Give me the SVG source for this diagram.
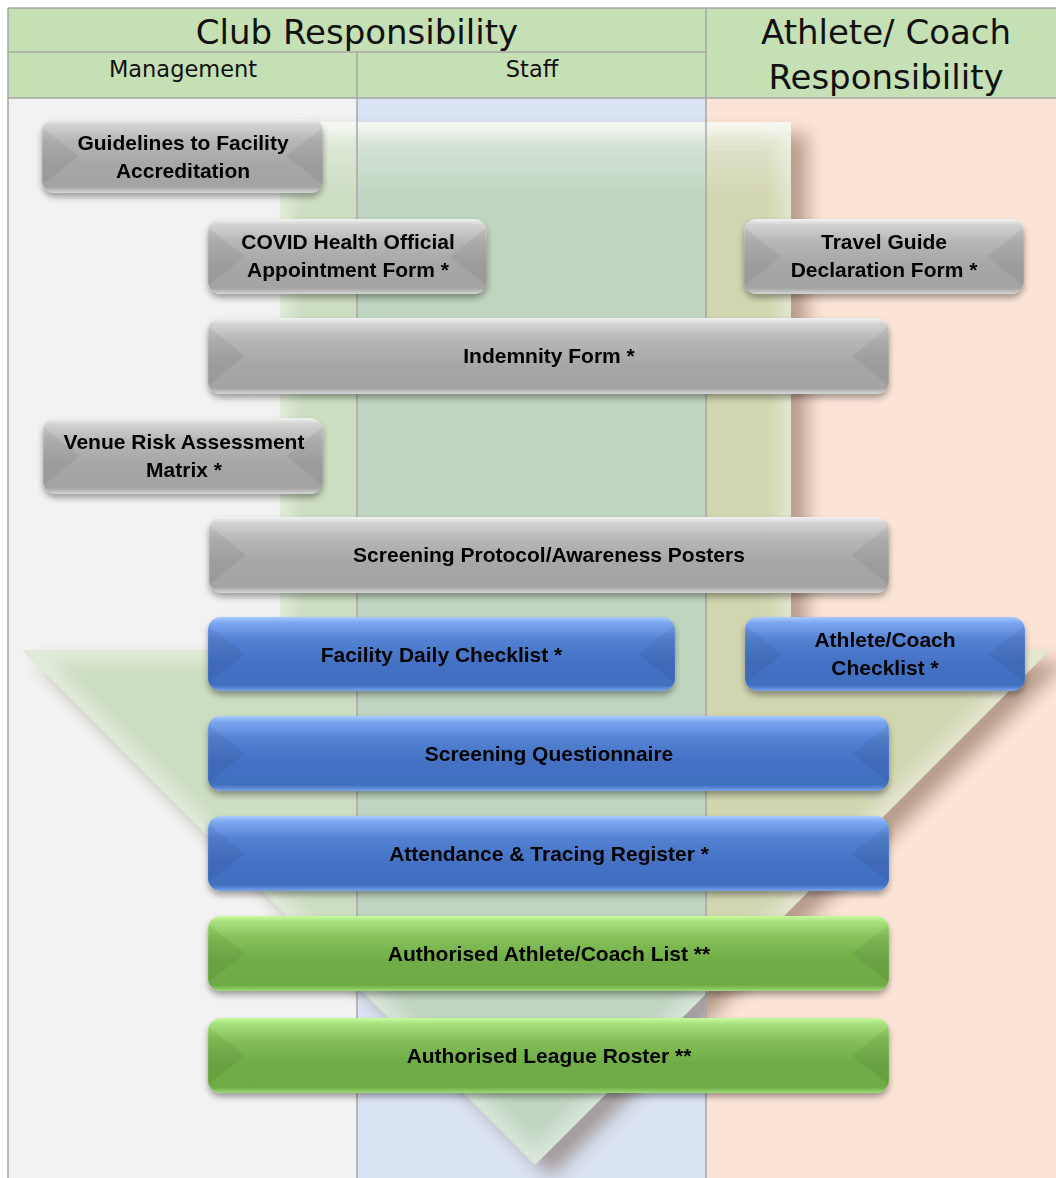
<svg xmlns="http://www.w3.org/2000/svg" width="1056" height="1178" viewBox="0 0 1056 1178">
  <style>
    .hdr { font-family: "DejaVu Sans", "Liberation Sans", sans-serif; fill: #111; text-anchor: middle; }
    .big { font-size: 34px; }
    .sub { font-size: 22.5px; }
    .grid { stroke: #a6a6a6; stroke-width: 1.5; fill: none; }
    .node text { font-family: "Liberation Sans", Arial, sans-serif; font-weight: bold; font-size: 21px; fill: #000; text-anchor: middle; }
    .gray rect.body { fill: url(#gGray); }
    .blue rect.body { fill: url(#gBlue); }
    .green rect.body { fill: url(#gGreen); }
    .facet { fill: #000; opacity: 0.06; }
  </style>
  <defs>
    <linearGradient id="gGray" x1="0" y1="0" x2="0" y2="1">
      <stop offset="0" stop-color="#f2f2f2"/>
      <stop offset="0.08" stop-color="#d2d2d2"/>
      <stop offset="0.3" stop-color="#b6b6b6"/>
      <stop offset="0.6" stop-color="#a7a7a7"/>
      <stop offset="0.92" stop-color="#a3a3a3"/>
      <stop offset="1" stop-color="#d6d6d6"/>
    </linearGradient>
    <linearGradient id="gBlue" x1="0" y1="0" x2="0" y2="1">
      <stop offset="0" stop-color="#a9cbff"/>
      <stop offset="0.08" stop-color="#7ba7f1"/>
      <stop offset="0.3" stop-color="#5482d3"/>
      <stop offset="0.6" stop-color="#4472c4"/>
      <stop offset="0.92" stop-color="#416fc0"/>
      <stop offset="1" stop-color="#7aa3ea"/>
    </linearGradient>
    <linearGradient id="gGreen" x1="0" y1="0" x2="0" y2="1">
      <stop offset="0" stop-color="#c8fb9f"/>
      <stop offset="0.08" stop-color="#a6e17b"/>
      <stop offset="0.3" stop-color="#84bf58"/>
      <stop offset="0.6" stop-color="#70ad47"/>
      <stop offset="0.92" stop-color="#6eab45"/>
      <stop offset="1" stop-color="#9dd973"/>
    </linearGradient>
    <linearGradient id="arrowTop" x1="0" y1="122" x2="0" y2="200" gradientUnits="userSpaceOnUse">
      <stop offset="0" stop-color="#ffffff" stop-opacity="0.75"/>
      <stop offset="0.25" stop-color="#ffffff" stop-opacity="0.35"/>
      <stop offset="1" stop-color="#ffffff" stop-opacity="0"/>
    </linearGradient>
    <filter id="boxShadow" x="-5%" y="-20%" width="110%" height="150%">
      <feDropShadow dx="0" dy="4" stdDeviation="3" flood-color="#000" flood-opacity="0.35"/>
    </filter>
    <filter id="arrowShadow" x="-10%" y="-10%" width="120%" height="120%">
      <feGaussianBlur stdDeviation="9"/>
    </filter>
    <path id="arrowShape" d="M280,122 L791,122 L791,650 L1050,650 L535,1165 L22,650 L280,650 Z"/>
    <clipPath id="arrowClip"><use href="#arrowShape"/></clipPath>
    <mask id="outsideArrow" maskUnits="userSpaceOnUse" x="0" y="0" width="1056" height="1178">
      <rect x="0" y="0" width="1056" height="1178" fill="#fff"/>
      <use href="#arrowShape" fill="#000"/>
    </mask>
  </defs>

  <!-- column backgrounds -->
  <rect x="8" y="98" width="349" height="1080" fill="#f2f2f2"/>
  <rect x="357" y="98" width="349" height="1080" fill="#dae3f3"/>
  <rect x="706" y="98" width="350" height="1080" fill="#fbe4d6"/>

  <!-- header band -->
  <rect x="8" y="8" width="1048" height="90" fill="#c5e0b4"/>

  <!-- large downward arrow behind the forms -->
  <g id="flow-arrow">
    <g mask="url(#outsideArrow)">
      <use href="#arrowShape" transform="translate(16,12)" fill="#5b3a28" opacity="0.42" filter="url(#arrowShadow)"/>
    </g>
    <use href="#arrowShape" fill="#9dc383" fill-opacity="0.45"/>
    <g clip-path="url(#arrowClip)">
      <use href="#arrowShape" fill="none" stroke="#ffffff" stroke-opacity="0.45" stroke-width="22" filter="url(#arrowShadow)"/>
      <rect x="280" y="122" width="511" height="80" fill="url(#arrowTop)"/>
    </g>
  </g>

  <!-- grid lines -->
  <g id="grid">
    <line class="grid" x1="8" y1="8" x2="1056" y2="8"/>
    <line class="grid" x1="8" y1="8" x2="8" y2="1178"/>
    <line class="grid" x1="8" y1="52" x2="706" y2="52"/>
    <line class="grid" x1="8" y1="98" x2="1056" y2="98"/>
    <line class="grid" x1="357" y1="52" x2="357" y2="1178"/>
    <line class="grid" x1="706" y1="8" x2="706" y2="1178"/>
  </g>

  <!-- header texts -->
  <g id="headers">
    <text class="hdr big" x="357" y="44">Club Responsibility</text>
    <text class="hdr big" x="886" y="44">Athlete/ Coach</text>
    <text class="hdr big" x="886" y="89">Responsibility</text>
    <text class="hdr sub" x="183" y="77">Management</text>
    <text class="hdr sub" x="532" y="77">Staff</text>
  </g>

  <!-- no connectors in this chart -->
  <g id="connectors"/>

  <!-- form nodes -->
  <g id="n-guidelines" class="node gray" filter="url(#boxShadow)">
    <rect class="body" x="42" y="119" width="281" height="74" rx="13"/>
    <polygon class="facet" points="43,128 79,156 43,184"/>
    <polygon class="facet" points="322,128 286,156 322,184"/>
    <text x="183" y="150">Guidelines to Facility</text>
    <text x="183" y="178">Accreditation</text>
  </g>

  <g id="n-covid" class="node gray" filter="url(#boxShadow)">
    <rect class="body" x="208" y="219" width="279" height="75" rx="13"/>
    <polygon class="facet" points="209,228 245,256.5 209,285"/>
    <polygon class="facet" points="486,228 450,256.5 486,285"/>
    <text x="348" y="249">COVID Health Official</text>
    <text x="348" y="277">Appointment Form *</text>
  </g>

  <g id="n-travel" class="node gray" filter="url(#boxShadow)">
    <rect class="body" x="744" y="219" width="280" height="75" rx="13"/>
    <polygon class="facet" points="745,228 781,256.5 745,285"/>
    <polygon class="facet" points="1023,228 987,256.5 1023,285"/>
    <text x="884" y="249">Travel Guide</text>
    <text x="884" y="277">Declaration Form *</text>
  </g>

  <g id="n-indemnity" class="node gray" filter="url(#boxShadow)">
    <rect class="body" x="208" y="318" width="681" height="76" rx="13"/>
    <polygon class="facet" points="209,327 245,356 209,385"/>
    <polygon class="facet" points="888,327 852,356 888,385"/>
    <text x="549" y="363">Indemnity Form *</text>
  </g>

  <g id="n-venue-risk" class="node gray" filter="url(#boxShadow)">
    <rect class="body" x="43" y="418" width="280" height="76" rx="13"/>
    <polygon class="facet" points="44,427 80,456 44,485"/>
    <polygon class="facet" points="322,427 286,456 322,485"/>
    <text x="184" y="449">Venue Risk Assessment</text>
    <text x="184" y="477">Matrix *</text>
  </g>

  <g id="n-screening-protocol" class="node gray" filter="url(#boxShadow)">
    <rect class="body" x="209" y="517" width="680" height="76" rx="13"/>
    <polygon class="facet" points="210,526 246,555 210,584"/>
    <polygon class="facet" points="888,526 852,555 888,584"/>
    <text x="549" y="562">Screening Protocol/Awareness Posters</text>
  </g>

  <g id="n-facility-daily" class="node blue" filter="url(#boxShadow)">
    <rect class="body" x="208" y="617" width="467" height="74" rx="13"/>
    <polygon class="facet" points="209,626 245,654 209,682"/>
    <polygon class="facet" points="674,626 638,654 674,682"/>
    <text x="441.5" y="662">Facility Daily Checklist *</text>
  </g>

  <g id="n-athlete-checklist" class="node blue" filter="url(#boxShadow)">
    <rect class="body" x="745" y="617" width="280" height="74" rx="13"/>
    <polygon class="facet" points="746,626 782,654 746,682"/>
    <polygon class="facet" points="1024,626 988,654 1024,682"/>
    <text x="885" y="647">Athlete/Coach</text>
    <text x="885" y="675">Checklist *</text>
  </g>

  <g id="n-screening-questionnaire" class="node blue" filter="url(#boxShadow)">
    <rect class="body" x="208" y="716" width="681" height="75" rx="13"/>
    <polygon class="facet" points="209,725 245,753.5 209,782"/>
    <polygon class="facet" points="888,725 852,753.5 888,782"/>
    <text x="549" y="761">Screening Questionnaire</text>
  </g>

  <g id="n-attendance" class="node blue" filter="url(#boxShadow)">
    <rect class="body" x="208" y="816" width="681" height="75" rx="13"/>
    <polygon class="facet" points="209,825 245,853.5 209,882"/>
    <polygon class="facet" points="888,825 852,853.5 888,882"/>
    <text x="549" y="861">Attendance &amp; Tracing Register *</text>
  </g>

  <g id="n-authorised-list" class="node green" filter="url(#boxShadow)">
    <rect class="body" x="208" y="916" width="681" height="75" rx="13"/>
    <polygon class="facet" points="209,925 245,953.5 209,982"/>
    <polygon class="facet" points="888,925 852,953.5 888,982"/>
    <text x="549" y="961">Authorised Athlete/Coach List **</text>
  </g>

  <g id="n-league-roster" class="node green" filter="url(#boxShadow)">
    <rect class="body" x="208" y="1018" width="681" height="75" rx="13"/>
    <polygon class="facet" points="209,1027 245,1055.5 209,1084"/>
    <polygon class="facet" points="888,1027 852,1055.5 888,1084"/>
    <text x="549" y="1063">Authorised League Roster **</text>
  </g>
</svg>
